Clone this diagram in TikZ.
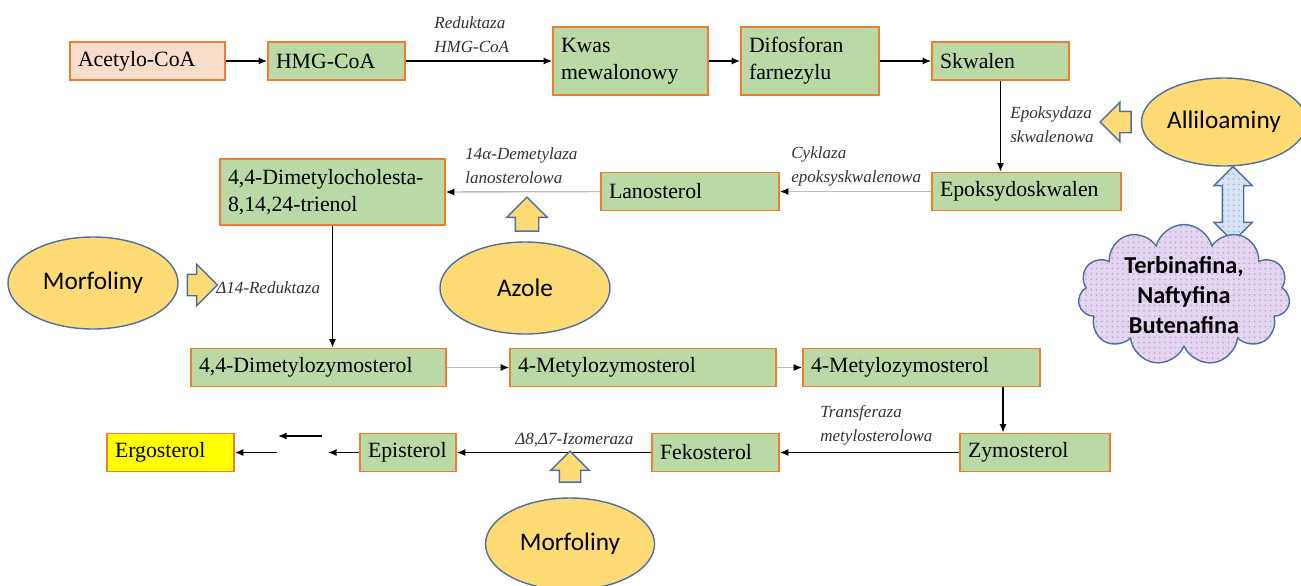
\documentclass[tikz,border=0pt]{standalone}
\usepackage{fontspec}
\setmainfont{Liberation Serif}
\newfontfamily\calib{Carlito}
\usepackage{tikz}
\usetikzlibrary{arrows.meta,shapes.geometric,shapes.symbols,shapes.arrows,patterns}
\definecolor{boxg}{RGB}{187,217,164}
\definecolor{boxp}{RGB}{249,221,203}
\definecolor{boxln}{RGB}{237,125,49}
\definecolor{ergy}{RGB}{255,255,0}
\definecolor{inhf}{RGB}{255,219,118}
\definecolor{inhln}{RGB}{80,110,160}
\definecolor{cloudf}{RGB}{226,214,240}
\definecolor{dblf}{RGB}{214,228,246}
\definecolor{grayln}{RGB}{190,190,190}
\definecolor{enzc}{RGB}{50,50,50}

\begin{document}
\begin{tikzpicture}[x=0.2mm,y=-0.2mm,>={Latex[length=1.7mm,width=1.4mm]},
  sbox/.style={draw=boxln,fill=boxg,line width=0.9pt,align=left,inner xsep=1.6mm,inner ysep=0pt,minimum height=7.6mm,font=\fontsize{12.4}{15.3}\selectfont},
  enz/.style={anchor=west,align=left,inner sep=0pt,text=enzc,font=\itshape\fontsize{9.7}{13.6}\selectfont},
  inh/.style={ellipse,draw=inhln,fill=inhf,line width=0.8pt,inner sep=0pt,font=\calib\fontsize{14.4}{17}\selectfont},
  barr/.style={single arrow,draw=inhln,fill=inhf,line width=0.8pt,inner sep=0pt,inner ysep=2mm,single arrow head extend=1.8mm},
  conn/.style={->,line width=0.8pt},
  lconn/.style={-{Latex[length=1.7mm,width=1.4mm,color=black]},draw=grayln,line width=0.8pt}]
\useasboundingbox (0,0) rectangle (1301,585);
\clip (0,0) rectangle (1301,585);
% top row: mevalonate part
\node[sbox,fill=boxp,text width=27.8mm] (acetyl) at (147.5,61) {Acetylo-CoA};
\node[sbox,text width=24.2mm] (hmg) at (336.5,61) {HMG-CoA};
\node[sbox,text width=27.8mm,minimum height=13.6mm] (kwas) at (630.5,61) {Kwas\\mewalonowy};
\node[sbox,text width=24.4mm,minimum height=13.6mm] (difos) at (810,61) {Difosforan\\farnezylu};
\node[sbox,text width=24.2mm] (skwal) at (1000.5,61) {Skwalen};
% second row
\node[sbox,text width=34.6mm] (epoks) at (1026.5,191.5) {Epoksydoskwalen};
\node[sbox,text width=32.4mm] (lanost) at (690,191.5) {Lanosterol};
\node[sbox,text width=41.8mm,minimum height=13.2mm] (dimchol) at (332.5,192) {4,4-Dimetylocholesta-\\8,14,24-trienol};
% third row
\node[sbox,text width=47.8mm] (dimzym) at (318.5,367.5) {4,4-Dimetylozymosterol};
\node[sbox,text width=50mm] (metzyma) at (643,367.5) {4-Metylozymosterol};
\node[sbox,text width=44.2mm] (metzymb) at (921.5,367.5) {4-Metylozymosterol};
% bottom row
\node[sbox,text width=26.8mm] (zymost) at (1035,452.5) {Zymosterol};
\node[sbox,text width=22.2mm] (fekost) at (715.5,452.5) {Fekosterol};
\node[sbox,text width=16mm] (epist) at (408,452.5) {Episterol};
\node[sbox,fill=ergy,text width=22.2mm] (ergo) at (170.5,452.5) {Ergosterol};
\coordinate (gapa) at (328,452.5);
\coordinate (gapb) at (322,436);
\coordinate (gapc) at (278,436);
\coordinate (gapd) at (277,452.5);
% enzymes
\node[enz] (redhmg) at (434,35) {Reduktaza\\HMG-CoA};
\node[enz] (epoxenz) at (1010,125) {Epoksydaza\\skwalenowa};
\node[enz] (cykl) at (791,166) {Cyklaza\\epoksyskwalenowa};
\node[enz] (demet) at (465,166) {14α-Demetylaza\\lanosterolowa};
\node[enz] (red14) at (216,288) {Δ14-Reduktaza};
\node[enz] (transf) at (820,425) {Transferaza\\metylosterolowa};
\node[enz] (izom) at (515,440) {Δ8,Δ7-Izomeraza};
% pathway arrows
\draw[conn] (acetyl.east) -- (hmg.west);
\draw[conn] (hmg.east) -- (kwas.west);
\draw[conn] (kwas.east) -- (difos.west);
\draw[conn] (difos.east) -- (skwal.west);
\draw[conn] (skwal.south) -- (skwal.south |- epoks.north);
\draw[lconn] (epoks.west) -- (lanost.east);
\draw[lconn] (lanost.west) -- (dimchol.east);
\draw[conn] (dimchol.south) -- (dimchol.south |- dimzym.north);
\draw[lconn] (dimzym.east) -- (metzyma.west);
\draw[lconn] (metzyma.east) -- (metzymb.west);
\draw[conn] ([xshift=16.3mm]metzymb.south) -- ([xshift=16.3mm]metzymb.south |- zymost.north);
\draw[conn] (zymost.west) -- (fekost.east);
\draw[conn] (fekost.west) -- (epist.east);
\draw[conn] (epist.west) -- (gapa);
\draw[conn] (gapb) -- (gapc);
\draw[conn] (gapd) -- (ergo.east);
% inhibitors
\node[inh,minimum width=33mm,minimum height=17.6mm] (alli) at (1224,122) {Alliloaminy};
\node[inh,minimum width=34mm,minimum height=18.4mm] (morfa) at (93,283) {Morfoliny};
\node[inh,minimum width=34mm,minimum height=18.4mm] (azole) at (525,288) {Azole};
\node[inh,minimum width=33.8mm,minimum height=18.4mm] (morfb) at (570,544) {Morfoliny};
\node[barr,minimum height=6.2mm,rotate=180] (alliarr) at (1121,122) {};
\node[barr,minimum height=6.8mm,inner ysep=2.2mm,single arrow head extend=1.7mm,rotate=90] (azarr) at (527,220) {};
\node[barr,minimum height=6mm,single arrow head extend=2mm] (morfarr) at (197,285) {};
\node[barr,minimum height=6.2mm,single arrow head extend=1.7mm,rotate=90] (morfbarr) at (570,472) {};
\node[double arrow,draw=inhln,line width=0.8pt,preaction={fill=dblf},pattern=dots,pattern color=blue!35,
  inner sep=0pt,inner ysep=2mm,double arrow head extend=1.7mm,minimum height=15mm,rotate=90] (dbl) at (1233,204) {};
\node[cloud,cloud puffs=11,cloud ignores aspect,draw=inhln,line width=0.8pt,preaction={fill=cloudf},
  pattern=dots,pattern color=violet!40,minimum width=42.4mm,minimum height=27mm,inner sep=0pt,align=center,
  font=\calib\bfseries\fontsize{13.8}{17}\selectfont] (leki) at (1184,295) {Terbinafina,\\Naftyfina\\Butenafina};
\end{tikzpicture}
\end{document}
